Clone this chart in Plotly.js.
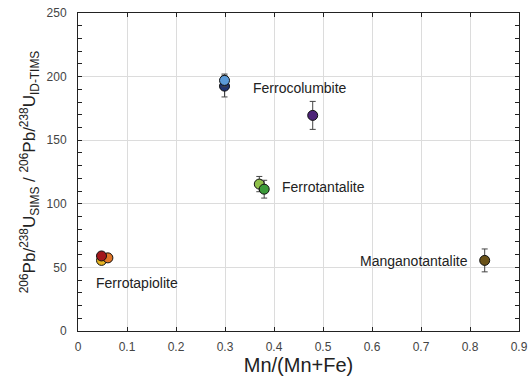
<!DOCTYPE html>
<html>
<head>
<meta charset="utf-8">
<script src="https://cdn.plot.ly/plotly-3.0.1.min.js"></script>
<style>html,body{margin:0;padding:0;background:#fff;}#chart{width:529px;height:379px;}</style>
</head>
<body>
<div id="chart"></div>
<script>
// Data (drawing order)
const sampleNames = ["Ferrotapiolite Y", "Ferrotapiolite O", "Ferrotapiolite R", "Ferrocolumbite N", "Ferrocolumbite B", "Ferrocolumbite P", "Ferrotantalite L", "Ferrotantalite G", "Manganotantalite"];
const mnRatio = [0.048, 0.061, 0.048, 0.299, 0.299, 0.479, 0.370, 0.380, 0.830];
const pbRatio = [55.5, 57.5, 59.0, 192.5, 197.0, 169.5, 115.5, 111.5, 55.5];
const pbError = [0, 0, 0, 8.5, 5.0, 11.0, 6.0, 7.0, 9.0];
const markerColors = ["#e6b422", "#e07628", "#a3161b", "#1f3474", "#5b9ad8", "#4d2378", "#8fc04a", "#3b9a3a", "#6a5218"];
const groupLabels = ["Ferrotapiolite", "Ferrocolumbite", "Ferrotantalite", "Manganotantalite"];
const labelX = [0.121, 0.454, 0.501, 0.686];
const labelY = [37.5, 191, 113.5, 55];

const FONT = "Liberation Sans, Arial, sans-serif";

const traces = sampleNames.map((n, i) => ({
  type: "scatter", mode: "markers", name: n,
  x: [mnRatio[i]], y: [pbRatio[i]],
  error_y: {type: "data", array: [pbError[i]], visible: pbError[i] > 0, color: "#444", thickness: 1, width: 3},
  marker: {size: 10, color: markerColors[i], line: {color: "#111", width: 1}},
  showlegend: false, hoverinfo: "skip"
}));

const annotations = groupLabels.map((t, i) => ({
  x: labelX[i], y: labelY[i], xref: "x", yref: "y", text: t, showarrow: false,
  font: {family: FONT, size: 14, color: "#222"},
  xanchor: "center", yanchor: "middle"
}));

const axisCommon = {
  showline: true, linecolor: "#222", linewidth: 1, mirror: "ticks",
  ticks: "inside", ticklen: 4, tickcolor: "#222", tickwidth: 1,
  showgrid: true, gridcolor: "#dcdcdc", gridwidth: 1, zeroline: false,
  tickfont: {family: FONT, size: 12, color: "#444"}
};

const layout = {
  width: 529, height: 379,
  margin: {l: 78, r: 10, t: 13, b: 48},
  paper_bgcolor: "#fff", plot_bgcolor: "#fff",
  showlegend: false,
  xaxis: Object.assign({}, axisCommon, {
    range: [0, 0.9], dtick: 0.1, tick0: 0, tickformat: "~g",
    ticklabelstandoff: 5,
    title: {text: "Mn/(Mn+Fe)", font: {family: FONT, size: 20, color: "#222"}, standoff: 2}
  }),
  yaxis: Object.assign({}, axisCommon, {
    range: [0, 250], dtick: 50, tick0: 0,
    ticklabelstandoff: 8,
    minor: {dtick: 10, ticks: "inside", ticklen: 4, tickcolor: "#222", showgrid: false},
    title: {text: "<sup>206</sup>Pb/<sup>238</sup>U<sub>SIMS</sub> / <sup>206</sup>Pb/<sup>238</sup>U<sub>ID-TIMS</sub>", font: {family: FONT, size: 17, color: "#222"}, standoff: 6}
  }),
  annotations: annotations
};

Plotly.newPlot("chart", traces, layout, {staticPlot: true, displayModeBar: false});
</script>
</body>
</html>
